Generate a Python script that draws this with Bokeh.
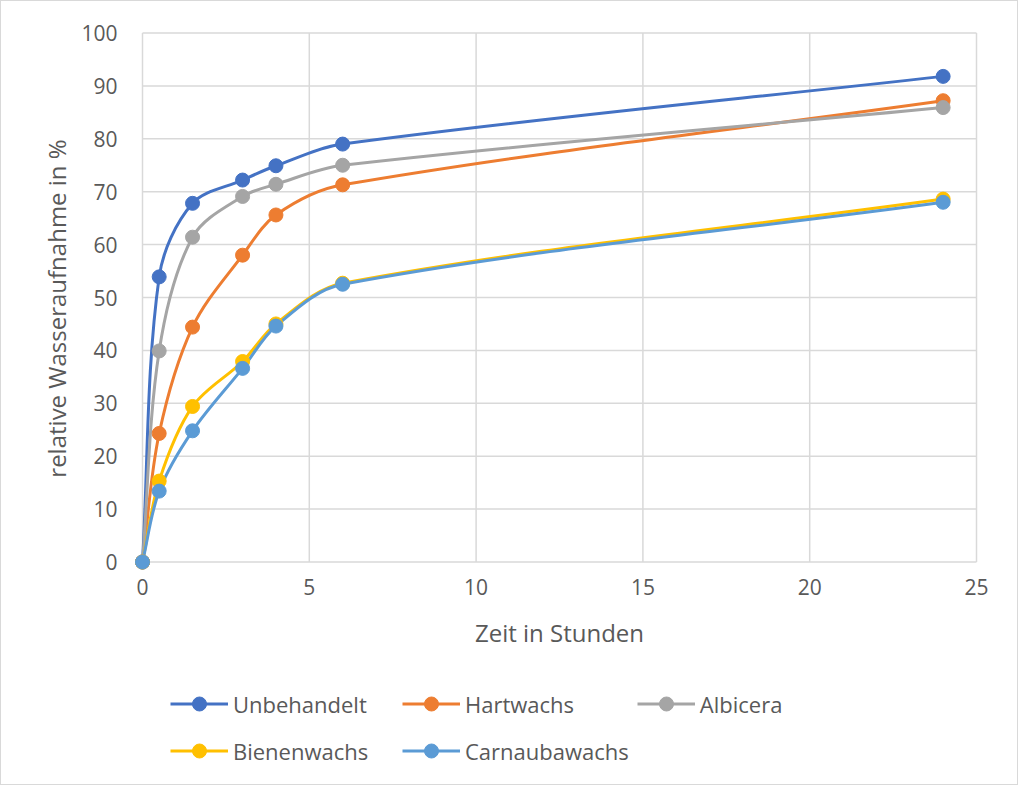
import numpy as np
from bokeh.plotting import figure
from bokeh.models import Range1d, FixedTicker, Legend, LegendItem
from bokeh.embed import file_html
from bokeh.resources import INLINE

# ---- data ----
hours = [0, 0.5, 1.5, 3, 4, 6, 24]
unbehandelt = [0, 53.9, 67.8, 72.2, 74.9, 79.0, 91.8]
hartwachs = [0, 24.3, 44.4, 58.0, 65.6, 71.3, 87.2]
albicera = [0, 39.9, 61.4, 69.1, 71.4, 75.0, 85.9]
bienenwachs = [0, 15.3, 29.4, 37.9, 45.0, 52.7, 68.6]
carnaubawachs = [0, 13.4, 24.8, 36.6, 44.6, 52.5, 68.0]
series_names = ["Unbehandelt", "Hartwachs", "Albicera", "Bienenwachs", "Carnaubawachs"]
series_values = [unbehandelt, hartwachs, albicera, bienenwachs, carnaubawachs]
series_colors = ["#4472C4", "#ED7D31", "#A5A5A5", "#FFC000", "#5B9BD5"]
x_ticks = [0, 5, 10, 15, 20, 25]
y_ticks = [0, 10, 20, 30, 40, 50, 60, 70, 80, 90, 100]

FONT = "Open Sans"
TXT = "#595959"
GRID = "#d9d9d9"

# geometry (pixels, figure coordinates)
W, H = 1018, 785
edge = 4                                   # frame covers almost the whole figure
data_left, data_right = 141, 975           # pixel columns of x = 0 and x = 25
data_top, data_bottom = 31.5, 560.5        # pixel rows of y = 100 and y = 0
sx = (data_right - data_left) / (x_ticks[-1] - x_ticks[0])
sy = (data_bottom - data_top) / (y_ticks[-1] - y_ticks[0])
x_start = x_ticks[0] - (data_left - edge) / sx
x_end = x_ticks[-1] + (W - edge - data_right) / sx
y_start = y_ticks[0] - (H - edge - data_bottom) / sy
y_end = y_ticks[-1] + (data_top - edge) / sy

p = figure(width=W, height=H, output_backend="svg", toolbar_location=None,
           x_range=Range1d(x_start, x_end), y_range=Range1d(y_start, y_end),
           min_border_left=edge, min_border_right=edge, min_border_top=edge,
           min_border_bottom=edge)
p.grid.visible = False
p.outline_line_color = None
p.background_fill_color = "white"
p.border_fill_color = "white"
p.styles = {"border": "1px solid #d9d9d9"}

# grid confined to the data area
xt = np.array(x_ticks, dtype=float)
yt = np.array(y_ticks, dtype=float)
p.segment(x0=xt, y0=np.full_like(xt, y_ticks[0]), x1=xt, y1=np.full_like(xt, y_ticks[-1]),
          line_color=GRID, line_width=1.5, level="underlay")
p.segment(x0=np.full_like(yt, x_ticks[0]), y0=yt, x1=np.full_like(yt, x_ticks[-1]), y1=yt,
          line_color=GRID, line_width=1.5, level="underlay")

for ax in (p.xaxis[0], p.yaxis[0]):
    ax.axis_line_color = None
    ax.major_tick_line_color = None
    ax.minor_tick_line_color = None
    ax.major_tick_out = 0
    ax.major_tick_in = 0
    ax.major_label_text_font = FONT
    ax.major_label_text_font_size = "21px"
    ax.major_label_text_color = TXT
    ax.axis_label_text_font = FONT
    ax.axis_label_text_font_size = "24px"
    ax.axis_label_text_color = TXT
    ax.axis_label_text_font_style = "normal"

p.xaxis.ticker = FixedTicker(ticks=x_ticks)
p.yaxis.ticker = FixedTicker(ticks=y_ticks)
p.xaxis.bounds = (x_ticks[0], x_ticks[-1])
p.yaxis.bounds = (y_ticks[0] - 4, y_ticks[-1])
p.xaxis.fixed_location = y_ticks[0]
p.yaxis.fixed_location = x_ticks[0]
p.xaxis.axis_label = "Zeit in Stunden"
p.yaxis.axis_label = "relative Wasseraufnahme in %"
p.xaxis.major_label_standoff = 17
p.yaxis.major_label_standoff = 25
p.xaxis.axis_label_standoff = 17
p.yaxis.axis_label_standoff = 5


def smooth_controls(xs, ys):
    """Bezier control points of a smoothed line through the data points."""
    x = np.asarray(xs, dtype=float)
    y = np.asarray(ys, dtype=float)
    xp = np.concatenate([[x[0]], x, [x[-1]]])
    yp = np.concatenate([[y[0]], y, [y[-1]]])
    tx = xp[2:] - xp[:-2]
    ty = yp[2:] - yp[:-2]
    seg = np.hypot(np.diff(x) * sx, np.diff(y) * sy)
    dprev = np.concatenate([[0.0], seg])
    dnext = np.concatenate([seg, [0.0]])
    tot = dprev + dnext
    fn = dnext / tot / 3.0
    fp = dprev / tot / 3.0
    cx0 = x[:-1] + tx[:-1] * fn[:-1]
    cy0 = y[:-1] + ty[:-1] * fn[:-1]
    cx1 = x[1:] - tx[1:] * fp[1:]
    cy1 = y[1:] - ty[1:] * fp[1:]
    return x[:-1], y[:-1], x[1:], y[1:], cx0, cy0, cx1, cy1


items = []
for name, vals, col in zip(series_names, series_values, series_colors):
    x0, y0, x1, y1, cx0, cy0, cx1, cy1 = smooth_controls(hours, vals)
    br = p.bezier(x0=x0, y0=y0, x1=x1, y1=y1, cx0=cx0, cy0=cy0, cx1=cx1, cy1=cy1,
                  line_color=col, line_width=3)
    items.append((name, br, col, vals))

legend_items = []
for name, br, col, vals in items:
    sr = p.scatter(hours, vals, size=14, fill_color=col, line_color=col, marker="circle")
    legend_items.append(LegendItem(label=name, renderers=[br, sr]))

legend = Legend(items=legend_items, orientation="horizontal", ncols=3,
                glyph_width=58, glyph_height=35, label_standoff=5, label_width=161,
                label_height=39, spacing=8, padding=0, margin=0, border_line_alpha=0,
                background_fill_alpha=0, label_text_font=FONT,
                label_text_font_size="22px", label_text_color=TXT,
                location=(165, 12))
p.add_layout(legend, "center")

open("out.html", "w").write(file_html(p, INLINE))
